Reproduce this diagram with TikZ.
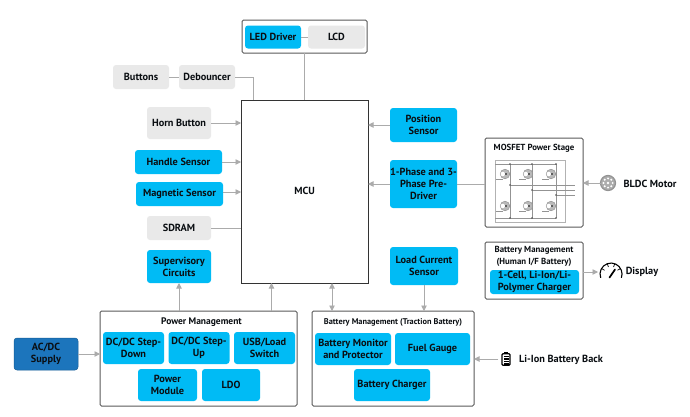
\documentclass[tikz,border=0pt]{standalone}
\usepackage{fontspec}
\setmainfont{PT Sans}
\usepackage{tikz}
\usetikzlibrary{arrows.meta}

\definecolor{chipblue}{HTML}{00BBF5}
\definecolor{supplyblue}{HTML}{1C75BC}
\definecolor{softgrey}{HTML}{E9E9E9}
\definecolor{linegrey}{HTML}{ABABAB}
\definecolor{framegrey}{HTML}{5A5A5A}
\definecolor{inkblack}{HTML}{0A0E12}

\tikzset{
	sized/.style 2 args={minimum width=#1pt,minimum height=#2pt},
	label/.style={font=\fontsize{10.3}{12}\selectfont\bfseries,text=inkblack,align=center,inner sep=0pt,outer sep=0pt},
	smalllabel/.style={label,font=\fontsize{8.8}{11.5}\selectfont\bfseries},
	blueblock/.style={label,fill=chipblue,rounded corners=3pt},
	greyblock/.style={label,fill=softgrey,rounded corners=3pt},
	groupbox/.style={draw=framegrey,line width=1pt,fill=white,rounded corners=1.5pt,inner sep=0pt,outer sep=0pt},
	wire/.style={draw=linegrey,line width=0.9pt},
	arrow/.style={wire,-{Triangle[length=5.5pt,width=5.5pt]}},
	twoarrow/.style={wire,{Triangle[length=5.5pt,width=5.5pt]}-{Triangle[length=5.5pt,width=5.5pt]}},
	schem/.style={draw=gray!85,line width=0.5pt},
}

\begin{document}
\begin{tikzpicture}[x=1pt,y=-1pt]
\useasboundingbox (0,0) rectangle (690,416);
\fill[white] (0,0) rectangle (690,416);

% MCU
\node[groupbox,draw=black!80,rounded corners=0pt,sized={127}{183}] (mcu) at (304.5,191.5) {};
\node[label] (mculabel) at (304.5,191) {MCU};

% top
\node[groupbox,sized={125}{33}] (ledbox) at (304.5,36.5) {};
\node[blueblock,sized={56}{23}] (led) at (273,37) {LED Driver};
\node[greyblock,sized={57}{23}] (lcd) at (336.5,37) {LCD};
\node[greyblock,sized={56}{24}] (buttons) at (141,77) {Buttons};
\node[greyblock,sized={56}{24}] (debouncer) at (207,77) {Debouncer};

% left column
\node[greyblock,sized={64}{32}] (horn) at (179,123) {Horn Button};
\node[blueblock,sized={87}{24}] (handle) at (178.5,162) {Handle Sensor};
\node[blueblock,sized={87}{24}] (magnetic) at (179.5,194) {Magnetic Sensor};
\node[greyblock,sized={64}{24}] (sdram) at (179,228) {SDRAM};
\node[blueblock,sized={64}{33}] (supervisory) at (179,266.5) {Supervisory\\Circuits};

% right column
\node[blueblock,sized={67}{34}] (position) at (423.5,125) {Position\\Sensor};
\node[blueblock,sized={67}{48}] (predriver) at (423.5,184) {1-Phase and 3-\\Phase Pre-\\Driver};
\node[blueblock,sized={68}{38}] (loadcurrent) at (424,266) {Load Current\\Sensor};

% power stage
\node[groupbox,sized={98}{89}] (mosfet) at (534,182.5) {};
\node[smalllabel] (mosfetlabel) at (534,148.5) {MOSFET Power Stage};
\draw[schem,draw=gray!60] (495,160) rectangle (565,222);
\draw[schem] (495,164) -- (556,164) (495,218) -- (556,218);
\foreach \railx/\raily in {510/185,532/190,556/195} {
	\draw[schem] (\railx,164) -- (\railx,218);
	\draw[schem] (\railx,\raily) -- (575,\raily);
	\fill[black!70] (\railx,164) circle (0.8) (\railx,218) circle (0.8) (\railx,\raily) circle (0.8);
}
\foreach \fetx in {505,528,551}
	\foreach \fety in {174,206} {
		\draw[schem] (\fetx-9,\fety+5) -- (\fetx-2,\fety+5);
		\draw[schem,fill=gray!55] (\fetx,\fety) circle (4.8);
		\fill[white] (\fetx-2.2,\fety) circle (2.2);
		\fill[black] (\fetx+1,\fety) circle (0.9);
	}

% motor
\node[draw=gray!85,fill=gray!65,circle,line width=1.2pt,minimum size=15pt,inner sep=0pt,outer sep=0pt] (motor) at (608,183) {};
\foreach \spoke in {0,45,...,315}
	\fill[white] (motor.center) ++(\spoke:4.6) circle (1.1);
\fill[white] (motor.center) circle (1.4);
\node[label] (motorlabel) at (650,184) {BLDC Motor};

% human I/F battery
\node[groupbox,sized={98}{57}] (humanbox) at (534,270.5) {};
\node[smalllabel] (humanlabel) at (534,256.5) {Battery Management\\(Human I/F Battery)};
\node[blueblock,sized={89}{24}] (charger) at (534.5,282) {1-Cell, Li-Ion/Li-\\Polymer Charger};

% display
\coordinate (gauge) at (611,274);
\draw[black,line width=1.1pt] (600.7,277.8) arc[start angle=200,end angle=-20,radius=11pt];
\foreach \tick in {150,110,70,30}
	\draw[black,line width=0.7pt] (gauge) ++(-\tick:7.5) -- ++(-\tick:3);
\draw[black,line width=1.7pt,line cap=round] (609.5,277.5) -- (615,269.5);
\coordinate (gaugeleft) at (598,272);
\node[label] (displaylabel) at (642,272) {Display};

% power management
\node[groupbox,sized={197}{95}] (power) at (198.5,358.5) {};
\node[label,font=\fontsize{9.5}{11}\selectfont\bfseries] (powerlabel) at (201.5,322) {Power Management};
\node[blueblock,sized={61}{32}] (stepdown) at (133.5,348) {DC/DC Step-\\Down};
\node[blueblock,sized={61}{32}] (stepup) at (199,348) {DC/DC Step-\\Up};
\node[blueblock,sized={61}{32}] (usbload) at (264.5,348) {USB/Load\\Switch};
\node[blueblock,sized={59}{32}] (powermodule) at (167.5,385) {Power\\Module};
\node[blueblock,sized={58}{32}] (ldo) at (231,385) {LDO};
\node[blueblock,fill=supplyblue,draw=supplyblue!80!black,line width=0.5pt,sized={64}{32}] (supply) at (46,354) {AC/DC\\Supply};

% traction battery
\node[groupbox,sized={162}{95}] (traction) at (393,358.5) {};
\node[smalllabel,font=\fontsize{8.3}{10}\selectfont\bfseries] (tractionlabel) at (393,322) {Battery Management (Traction Battery)};
\node[blueblock,sized={76}{32}] (monitor) at (353,349) {Battery Monitor\\and Protector};
\node[blueblock,sized={75}{32}] (fuel) at (432.5,349) {Fuel Gauge};
\node[blueblock,sized={76}{32}] (batcharger) at (392,385) {Battery Charger};

% li-ion pack
\node[draw=black,fill=white,line width=1.1pt,rounded corners=1pt,minimum width=8pt,minimum height=11.5pt,inner sep=0pt,outer sep=0pt] (pack) at (506,359.5) {};
\fill[black] (504,351.5) rectangle (508,353.5);
\foreach \stripe in {355.5,358,360.5,363}
	\fill[black] (503.5,\stripe) rectangle (508.5,\stripe+1.5);
\node[label] (packlabel) at (561,360) {Li-Ion Battery Back};

% tap points
\coordinate (debtap) at (253,100);
\coordinate (powertap) at (271.5,311);
\coordinate (mcubus) at (332,283);
\coordinate (tracbus) at (332,311);
\coordinate (packend) at (498,359);

% connectors
\draw[wire] (led) -- (lcd);
\draw[wire] (ledbox.south) -- (mcu.north);
\draw[wire] (buttons) -- (debouncer);
\draw[wire] (debouncer.east) -| (debtap);
\draw[arrow] (horn.east) -- (horn.east -| mcu.west);
\draw[arrow] (handle.east) -- (handle.east -| mcu.west);
\draw[arrow] ([yshift=2pt]magnetic.east) -- ([yshift=2pt]magnetic.east -| mcu.west);
\draw[wire] (sdram.east) -- (sdram.east -| mcu.west);
\draw[arrow] (position.west) -- (position.west -| mcu.east);
\draw[arrow] (predriver.west) -- (predriver.west -| mcu.east);
\draw[wire] (predriver.east) -- (predriver.east -| mosfet.west);
\draw[arrow] (motor.west) -- (motor.west -| mosfet.east);
\draw[arrow] (humanbox.east |- gaugeleft) -- (gaugeleft);
\draw[arrow] (supply.east) -- (supply.east -| power.west);
\draw[arrow] (supervisory.south |- power.north) -- (supervisory.south);
\draw[arrow] (powertap) -- (powertap |- mcu.south);
\draw[twoarrow] (mcubus) -- (tracbus);
\draw[arrow] (loadcurrent.south) -- (loadcurrent.south |- traction.north);
\draw[arrow] (packend) -- (packend -| traction.east);

\end{tikzpicture}
\end{document}
